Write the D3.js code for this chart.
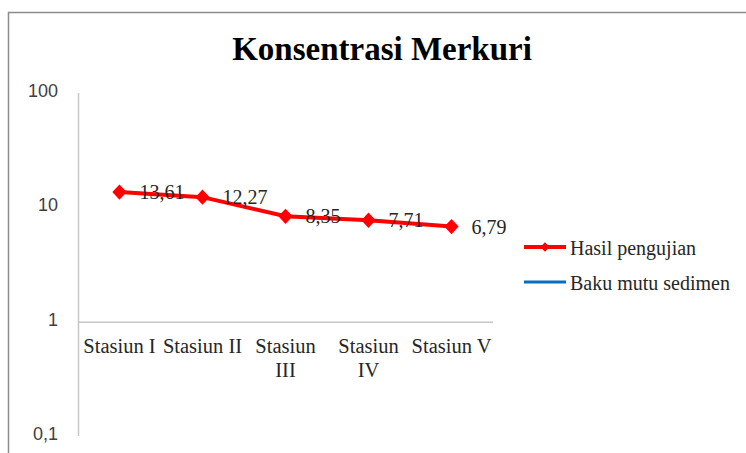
<!DOCTYPE html>
<html>
<head>
<meta charset="utf-8">
<script src="https://cdn.jsdelivr.net/npm/d3@7"></script>
<style>
	body { margin: 0; background: #fff; }
	svg { display: block; }
</style>
</head>
<body>
<div id="chart"></div>
<script>
var categories = [["Stasiun I"], ["Stasiun II"], ["Stasiun", "III"], ["Stasiun", "IV"], ["Stasiun V"]];
var hasilValues = [13.61, 12.27, 8.35, 7.71, 6.79];
var valueLabels = ["13,61", "12,27", "8,35", "7,71", "6,79"];
var yTicks = [0.1, 1, 10, 100];
var legendItems = ["Hasil pengujian", "Baku mutu sedimen"];

var width = 746, height = 453;
var serif = "'Liberation Serif', 'Times New Roman', serif";
var sans = "'Liberation Sans', 'DejaVu Sans', sans-serif";

var svg = d3.select("#chart").append("svg")
	.attr("width", width)
	.attr("height", height);

// chart frame, cut off at right and bottom like the picture
svg.append("rect")
	.attr("x", 8.5)
	.attr("y", 12.5)
	.attr("width", 800)
	.attr("height", 500)
	.attr("fill", "none")
	.attr("stroke", "#8c8c8c")
	.attr("stroke-width", 1.5);

svg.append("text")
	.attr("x", 382)
	.attr("y", 60)
	.attr("text-anchor", "middle")
	.attr("font-family", serif)
	.attr("font-weight", "bold")
	.attr("font-size", 33)
	.attr("fill", "#000")
	.text("Konsentrasi Merkuri");

var x = d3.scaleBand()
	.domain(d3.range(categories.length))
	.range([78, 493]);

var y = d3.scaleLog()
	.domain([0.1, 100])
	.range([436, 93]);

// y axis line
svg.append("line")
	.attr("x1", 78.5).attr("x2", 78.5)
	.attr("y1", y(100)).attr("y2", y(0.1))
	.attr("stroke", "#c8c8c8")
	.attr("stroke-width", 1.5);

// category axis crosses at 1
svg.append("line")
	.attr("x1", 78).attr("x2", 493)
	.attr("y1", y(1) + 0.5).attr("y2", y(1) + 0.5)
	.attr("stroke", "#c8c8c8")
	.attr("stroke-width", 1.5);

svg.append("g").selectAll("text")
	.data(yTicks)
	.enter().append("text")
		.attr("x", 58)
		.attr("y", function(d) { return y(d) + 4; })
		.attr("text-anchor", "end")
		.attr("font-family", sans)
		.attr("font-size", 18)
		.attr("fill", "#404040")
		.text(function(d) { return String(d).replace(".", ","); });

var catLabels = svg.append("g").selectAll("text")
	.data(categories)
	.enter().append("text")
		.attr("x", function(d, i) { return x(i) + x.bandwidth() / 2; })
		.attr("y", 353)
		.attr("text-anchor", "middle")
		.attr("font-family", serif)
		.attr("font-size", 20.5)
		.attr("fill", "#262626");
catLabels.selectAll("tspan")
	.data(function(d) { return d; })
	.enter().append("tspan")
		.attr("x", function() { return d3.select(this.parentNode).attr("x"); })
		.attr("dy", function(d, i) { return i ? 24 : 0; })
		.text(function(d) { return d; });

var line = d3.line()
	.x(function(d, i) { return x(i) + x.bandwidth() / 2; })
	.y(function(d) { return y(d); });

svg.append("path")
	.datum(hasilValues)
	.attr("d", line)
	.attr("fill", "none")
	.attr("stroke", "#ff0000")
	.attr("stroke-width", 4);

var diamond = d3.symbol().type(d3.symbolDiamond2).size(130);

svg.append("g").selectAll("path")
	.data(hasilValues)
	.enter().append("path")
		.attr("d", diamond)
		.attr("transform", function(d, i) {
			return "translate(" + (x(i) + x.bandwidth() / 2) + "," + y(d) + ") scale(1, 1.07)";
		})
		.attr("fill", "#ff0000");

svg.append("g").selectAll("text")
	.data(hasilValues)
	.enter().append("text")
		.attr("x", function(d, i) { return x(i) + x.bandwidth() / 2 + 20; })
		.attr("y", function(d) { return y(d) + 7; })
		.attr("font-family", serif)
		.attr("font-size", 20)
		.attr("fill", "#262626")
		.text(function(d, i) { return valueLabels[i]; });

// legend
var legend = svg.append("g");
var legendColors = ["#ff0000", "#0070c0"];
legendItems.forEach(function(name, i) {
	var ly = 247 + i * 35;
	legend.append("line")
		.attr("x1", 524).attr("x2", 566)
		.attr("y1", ly).attr("y2", ly)
		.attr("stroke", legendColors[i])
		.attr("stroke-width", i ? 3 : 4);
	if (i == 0)
		legend.append("path")
			.attr("d", d3.symbol().type(d3.symbolDiamond2).size(55))
			.attr("transform", "translate(545," + ly + ")")
			.attr("fill", legendColors[i]);
	legend.append("text")
		.attr("x", 570)
		.attr("y", ly + 8)
		.attr("font-family", serif)
		.attr("font-size", 20)
		.attr("fill", "#262626")
		.text(name);
});
</script>
</body>
</html>
